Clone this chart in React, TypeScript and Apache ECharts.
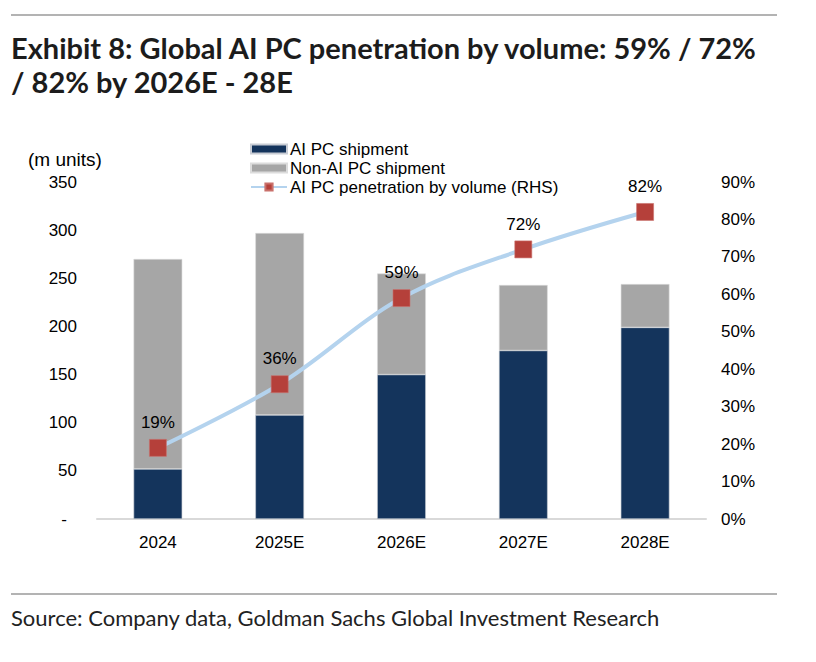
import React, { useEffect, useRef } from "react";
import * as echarts from "echarts";

const categories = ["2024", "2025E", "2026E", "2027E", "2028E"];
const aiPcShipment = [52, 108, 150, 175, 199];
const nonAiPcShipment = [218, 189, 105, 68, 45];
const aiPcPenetration = [0.19, 0.36, 0.59, 0.72, 0.82];

const titleText = "Exhibit 8: Global AI PC penetration by volume: 59% / 72%\n/ 82% by 2026E - 28E";
const sourceText = "Source: Company data, Goldman Sachs Global Investment Research";

const NAVY = "#14345c";
const GREY = "#a6a6a6";
const LINE = "#b4d3ee";
const MARK = "#b5403a";
const FONT = "Liberation Sans, Arial, sans-serif";

export default function App() {
  const ref = useRef<HTMLDivElement>(null);
  useEffect(() => {
    if (!ref.current) return;
    const chart = echarts.init(ref.current, null, { renderer: "svg" });
    chart.setOption({
      animation: false,
      backgroundColor: "#ffffff",
      textStyle: { fontFamily: FONT },
      title: {
        text: titleText,
        left: 11,
        top: 30,
        padding: 0,
        textStyle: {
          fontFamily: "Lato, Open Sans, sans-serif",
          fontWeight: "bold",
          fontSize: 29,
          lineHeight: 34,
          color: "#1c1c1c",
        },
      },
      legend: {
        orient: "vertical",
        left: 250,
        top: 140,
        itemWidth: 36,
        itemHeight: 9,
        itemGap: 1,
        padding: 0,
        textStyle: { fontFamily: FONT, fontSize: 17, color: "#000", lineHeight: 18, padding: [0, 0, 0, -2] },
        data: [
          { name: "AI PC shipment", icon: "rect" },
          { name: "Non-AI PC shipment", icon: "rect" },
          { name: "AI PC penetration by volume (RHS)" },
        ],
      },
      grid: { left: 97, right: 110, top: 182, bottom: 143, containLabel: false },
      xAxis: {
        type: "category",
        data: categories,
        axisTick: { show: false },
        axisLine: { lineStyle: { color: "#d9d9d9", width: 2 } },
        axisLabel: { fontFamily: FONT, fontSize: 17, color: "#000", margin: 15 },
      },
      yAxis: [
        {
          type: "value",
          min: 0,
          max: 350,
          interval: 50,
          splitLine: { show: false },
          axisLine: { show: false },
          axisTick: { show: false },
          axisLabel: {
            fontFamily: FONT,
            fontSize: 17,
            color: "#000",
            margin: 20,
            formatter: (v: number) => (v === 0 ? "{d|-}" : String(v)),
            rich: { d: { fontFamily: FONT, fontSize: 17, color: "#000", padding: [0, 10, 0, 0] } },
          },
        },
        {
          type: "value",
          min: 0,
          max: 0.9,
          interval: 0.1,
          splitLine: { show: false },
          axisLine: { show: false },
          axisTick: { show: false },
          axisLabel: {
            fontFamily: FONT,
            fontSize: 17,
            color: "#000",
            margin: 15,
            formatter: (v: number) => Math.round(v * 100) + "%",
          },
        },
      ],
      series: [
        {
          name: "AI PC shipment",
          type: "bar",
          stack: "total",
          barWidth: "40%",
          data: aiPcShipment,
          itemStyle: { color: NAVY, borderColor: "#c8ccd4", borderWidth: 0.6 },
        },
        {
          name: "Non-AI PC shipment",
          type: "bar",
          stack: "total",
          barWidth: "40%",
          data: nonAiPcShipment,
          itemStyle: { color: GREY, borderColor: "#dcdcdc", borderWidth: 0.6 },
        },
        {
          name: "AI PC penetration by volume (RHS)",
          type: "line",
          yAxisIndex: 1,
          smooth: 0.35,
          data: aiPcPenetration,
          symbol: "rect",
          symbolSize: 17,
          lineStyle: { color: LINE, width: 4 },
          itemStyle: { color: MARK, borderColor: "#c9706b", borderWidth: 0.6 },
          label: {
            show: true,
            position: "top",
            distance: 8,
            fontFamily: FONT,
            fontSize: 17,
            color: "#000",
            formatter: (p: any) => Math.round(p.value * 100) + "%",
          },
          z: 5,
        },
      ],
      graphic: [
        {
          type: "line",
          shape: { x1: 11, y1: 15, x2: 777, y2: 15 },
          style: { stroke: "#9a9a9a", lineWidth: 1.5 },
        },
        {
          type: "line",
          shape: { x1: 11, y1: 594, x2: 777, y2: 594 },
          style: { stroke: "#9a9a9a", lineWidth: 1.5 },
        },
        {
          type: "text",
          left: 28,
          top: 150,
          style: { text: "(m units)", fontFamily: FONT, fontSize: 19, fill: "#000" },
        },
        {
          type: "text",
          left: 11,
          top: 606,
          style: { text: sourceText, fontFamily: "Lato, Open Sans, sans-serif", fontSize: 22, fill: "#222" },
        },
      ],
    });
    return () => chart.dispose();
  }, []);
  return (
    <div
      ref={ref}
      style={{ position: "fixed", left: 0, top: 0, width: 816, height: 662, background: "#fff" }}
    />
  );
}
